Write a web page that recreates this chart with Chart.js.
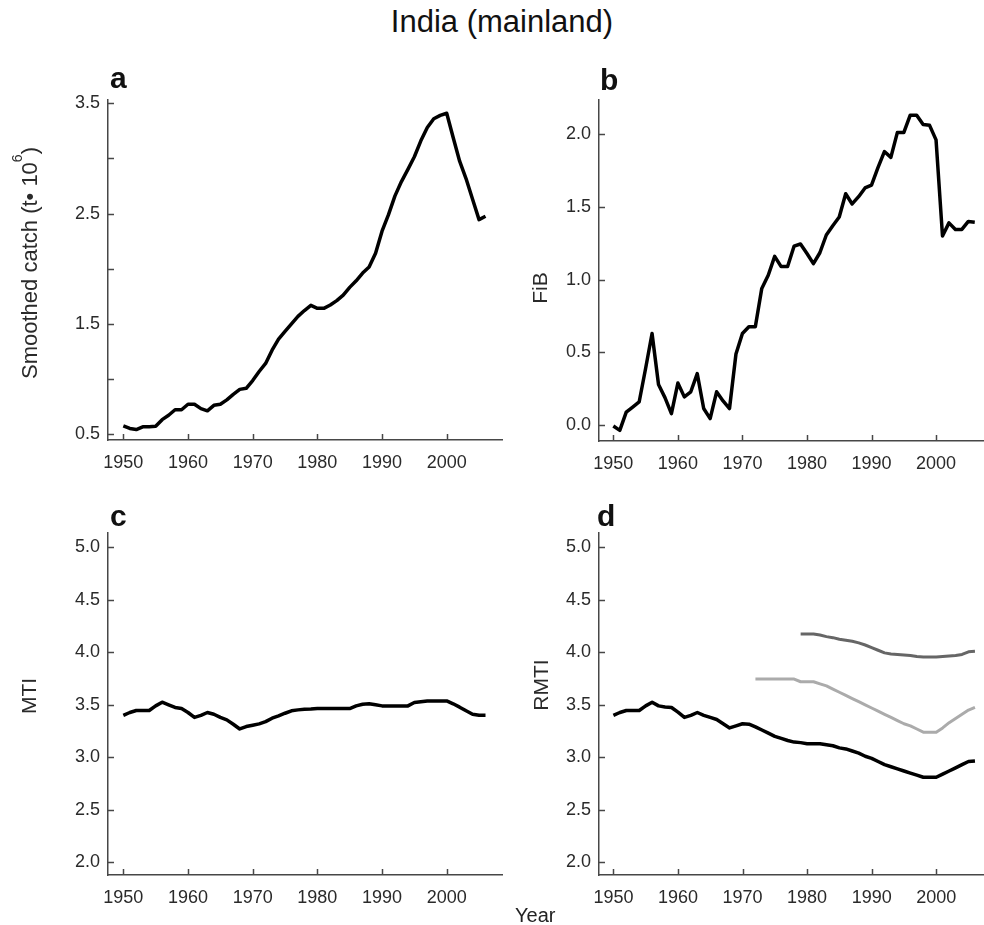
<!DOCTYPE html>
<html>
<head>
<meta charset="utf-8">
<title>India (mainland)</title>
<script src="https://cdn.jsdelivr.net/npm/chart.js@4.4.1/dist/chart.umd.min.js"></script>
<style>
  body { margin: 0; background: #fff; overflow: hidden; }
  #fig { position: relative; width: 984px; height: 925px; font-family: "Liberation Sans", Arial, sans-serif; color: #111; }
  #fig canvas { position: absolute; }
  #title { position: absolute; left: 0; top: 6px; width: 1004px; text-align: center; font-size: 31px; line-height: 31px; }
  #xlabel { position: absolute; left: 515px; top: 905px; font-size: 20px; line-height: 20px; color: #222; }
</style>
</head>
<body>
<div id="fig">
  <div id="title">India (mainland)</div>
  <canvas id="pa" width="506" height="430" style="left:0px;top:60px"></canvas>
  <canvas id="pb" width="484" height="430" style="left:500px;top:60px"></canvas>
  <canvas id="pc" width="506" height="430" style="left:0px;top:490px"></canvas>
  <canvas id="pd" width="484" height="430" style="left:500px;top:490px"></canvas>
  <div id="xlabel">Year</div>
</div>
<script>
// data
const years = [1950, 1951, 1952, 1953, 1954, 1955, 1956, 1957, 1958, 1959,
  1960, 1961, 1962, 1963, 1964, 1965, 1966, 1967, 1968, 1969,
  1970, 1971, 1972, 1973, 1974, 1975, 1976, 1977, 1978, 1979,
  1980, 1981, 1982, 1983, 1984, 1985, 1986, 1987, 1988, 1989,
  1990, 1991, 1992, 1993, 1994, 1995, 1996, 1997, 1998, 1999,
  2000, 2001, 2002, 2003, 2004, 2005, 2006];

const catchSmoothed = [0.573, 0.55, 0.54, 0.565, 0.565, 0.57, 0.63, 0.67, 0.72, 0.72,
  0.77, 0.77, 0.73, 0.71, 0.76, 0.77, 0.81, 0.86, 0.905, 0.915,
  0.985, 1.067, 1.14, 1.26, 1.36, 1.43, 1.50, 1.567, 1.62, 1.667,
  1.64, 1.64, 1.67, 1.71, 1.76, 1.83, 1.89, 1.96, 2.015, 2.14,
  2.34, 2.49, 2.66, 2.79, 2.90, 3.015, 3.16, 3.28, 3.36, 3.39,
  3.41, 3.19, 2.975, 2.815, 2.63, 2.445, 2.475];

const fib = [-0.005, -0.035, 0.09, 0.125, 0.16, 0.39, 0.63, 0.28, 0.19, 0.08,
  0.29, 0.195, 0.23, 0.355, 0.115, 0.046, 0.23, 0.167, 0.115, 0.49,
  0.63, 0.677, 0.677, 0.94, 1.03, 1.16, 1.09, 1.09, 1.23, 1.245,
  1.18, 1.11, 1.185, 1.307, 1.37, 1.43, 1.59, 1.52, 1.57, 1.63,
  1.65, 1.77, 1.88, 1.84, 2.01, 2.01, 2.13, 2.13, 2.065, 2.06,
  1.96, 1.30, 1.39, 1.345, 1.345, 1.40, 1.395];

const mti = [3.40, 3.427, 3.446, 3.446, 3.446, 3.49, 3.525, 3.50, 3.475, 3.465,
  3.427, 3.38, 3.40, 3.427, 3.41, 3.38, 3.357, 3.315, 3.27, 3.293,
  3.306, 3.319, 3.34, 3.373, 3.395, 3.42, 3.443, 3.452, 3.458, 3.46,
  3.465, 3.465, 3.465, 3.465, 3.465, 3.465, 3.49, 3.506, 3.51, 3.50,
  3.49, 3.49, 3.49, 3.49, 3.49, 3.522, 3.53, 3.537, 3.537, 3.537,
  3.537, 3.51, 3.478, 3.443, 3.41, 3.40, 3.40];

const rmtiAll = [3.40, 3.427, 3.446, 3.446, 3.446, 3.49, 3.525, 3.49, 3.48, 3.475,
  3.43, 3.38, 3.40, 3.427, 3.40, 3.38, 3.36, 3.32, 3.28, 3.30,
  3.32, 3.316, 3.29, 3.26, 3.23, 3.20, 3.18, 3.16, 3.145, 3.14,
  3.13, 3.13, 3.13, 3.12, 3.11, 3.09, 3.08, 3.06, 3.04, 3.01,
  2.99, 2.96, 2.93, 2.91, 2.89, 2.87, 2.85, 2.83, 2.81, 2.81,
  2.81, 2.84, 2.87, 2.90, 2.93, 2.96, 2.965];

const rmtiLight = [null, null, null, null, null, null, null, null, null, null,
  null, null, null, null, null, null, null, null, null, null,
  null, null, 3.745, 3.745, 3.745, 3.745, 3.745, 3.745, 3.745, 3.72,
  3.72, 3.72, 3.70, 3.68, 3.65, 3.62, 3.59, 3.56, 3.53, 3.50,
  3.47, 3.44, 3.41, 3.38, 3.35, 3.32, 3.30, 3.27, 3.24, 3.24,
  3.24, 3.28, 3.33, 3.37, 3.41, 3.45, 3.475];

const rmtiDark = [null, null, null, null, null, null, null, null, null, null,
  null, null, null, null, null, null, null, null, null, null,
  null, null, null, null, null, null, null, null, null, 4.175,
  4.175, 4.175, 4.165, 4.15, 4.14, 4.125, 4.115, 4.105, 4.09, 4.07,
  4.045, 4.02, 3.995, 3.985, 3.98, 3.975, 3.97, 3.96, 3.955, 3.955,
  3.955, 3.96, 3.965, 3.97, 3.98, 4.005, 4.01];

const xTicks = [1950, 1960, 1970, 1980, 1990, 2000];
const catchTicks = [0.5, 1.0, 1.5, 2.0, 2.5, 3.0, 3.5];
const catchLabelled = [0.5, 1.5, 2.5, 3.5];
const fibTicks = [0.0, 0.5, 1.0, 1.5, 2.0];
const mtiTicks = [2.0, 2.5, 3.0, 3.5, 4.0, 4.5, 5.0];

const FONT = '"Liberation Sans", Arial, sans-serif';
const AXIS = '#474747';
const LABEL = '#2a2a2a';

// inward tick marks, placed with the chart's own scales
const innerTicks = {
  id: 'innerTicks',
  afterDraw(chart) {
    const { ctx, chartArea: a, scales: { x, y } } = chart;
    ctx.save();
    ctx.strokeStyle = AXIS;
    ctx.lineWidth = 1.5;
    ctx.beginPath();
    x.ticks.forEach(t => {
      const px = Math.round(x.getPixelForValue(t.value)) + 0.5;
      ctx.moveTo(px, a.bottom);
      ctx.lineTo(px, a.bottom - 6);
    });
    y.ticks.forEach(t => {
      const py = Math.round(y.getPixelForValue(t.value)) + 0.5;
      ctx.moveTo(a.left, py);
      ctx.lineTo(a.left + 6, py);
    });
    ctx.stroke();
    ctx.restore();
  }
};

// panel letter and rotated y title (with optional superscript part)
const panelText = {
  id: 'panelText',
  afterDraw(chart, args, o) {
    const ctx = chart.ctx;
    ctx.save();
    ctx.fillStyle = '#111';
    ctx.font = 'bold 30px ' + FONT;
    ctx.textBaseline = 'alphabetic';
    ctx.textAlign = 'left';
    ctx.fillText(o.letter, o.lx, o.ly);

    ctx.fillStyle = LABEL;
    ctx.translate(o.tx, o.ty);
    ctx.rotate(-Math.PI / 2);
    let total = 0;
    o.title.forEach(p => {
      ctx.font = p.size + 'px ' + FONT;
      total += ctx.measureText(p.text).width;
    });
    let pos = -total / 2;
    o.title.forEach(p => {
      ctx.font = p.size + 'px ' + FONT;
      ctx.fillText(p.text, pos, -(p.rise || 0));
      pos += ctx.measureText(p.text).width;
    });
    ctx.restore();
  }
};

function makePanel(id, cfg) {
  const datasets = cfg.series.map(s => ({
    data: years.map((yr, i) => ({ x: yr, y: s.values[i] })),
    borderColor: s.color,
    borderWidth: s.width,
    pointRadius: 0,
    tension: 0,
    fill: false,
    spanGaps: false,
    borderJoinStyle: 'round'
  }));

  return new Chart(document.getElementById(id), {
    type: 'line',
    data: { datasets },
    options: {
      responsive: false,
      animation: false,
      events: [],
      layout: { padding: { top: cfg.padTop, right: cfg.padRight, left: 0, bottom: 0 } },
      plugins: {
        legend: { display: false },
        tooltip: { enabled: false },
        panelText: cfg.text
      },
      scales: {
        x: {
          type: 'linear',
          min: cfg.xMin,
          max: cfg.xMax,
          grid: { display: false, drawTicks: false },
          border: { display: true, color: AXIS, width: 1.5 },
          ticks: {
            color: LABEL,
            font: { family: FONT, size: 18 },
            padding: 12,
            maxRotation: 0,
            autoSkip: false,
            callback: v => String(v)
          },
          afterBuildTicks: s => { s.ticks = xTicks.map(v => ({ value: v })); },
          afterFit: s => { s.height = cfg.xH; }
        },
        y: {
          type: 'linear',
          min: cfg.yMin,
          max: cfg.yMax,
          grid: { display: false, drawTicks: false },
          border: { display: true, color: AXIS, width: 1.5 },
          ticks: {
            color: LABEL,
            font: { family: FONT, size: 18 },
            padding: 8,
            autoSkip: false,
            callback: cfg.yLabel
          },
          afterBuildTicks: s => { s.ticks = cfg.yTicks.map(v => ({ value: v })); },
          afterFit: s => { s.width = cfg.yW; }
        }
      }
    },
    plugins: [innerTicks, panelText]
  });
}

const oneDec = v => v.toFixed(1);

// a: smoothed catch
makePanel('pa', {
  series: [{ values: catchSmoothed, color: '#000', width: 3.5 }],
  xMin: 1947.63, xMax: 2008.55, yMin: 0.4456, yMax: 3.53,
  yTicks: catchTicks,
  yLabel: v => (catchLabelled.includes(v) ? v.toFixed(1) : ''),
  yW: 108, xH: 50, padTop: 40, padRight: 4,
  text: {
    letter: 'a', lx: 110, ly: 28,
    tx: 37, ty: 203,
    title: [
      { text: 'Smoothed catch (t\u2022 10', size: 22 },
      { text: '6', size: 14, rise: 15 },
      { text: ')', size: 22 }
    ]
  }
});

// b: FiB index
makePanel('pb', {
  series: [{ values: fib, color: '#000', width: 3.5 }],
  xMin: 1947.78, xMax: 2007.43, yMin: -0.108, yMax: 2.234,
  yTicks: fibTicks,
  yLabel: oneDec,
  yW: 99, xH: 49, padTop: 40, padRight: 0,
  text: {
    letter: 'b', lx: 100, ly: 30,
    tx: 47, ty: 228,
    title: [{ text: 'FiB', size: 21 }]
  }
});

// c: MTI
makePanel('pc', {
  series: [{ values: mti, color: '#000', width: 3.5 }],
  xMin: 1947.63, xMax: 2008.55, yMin: 1.879, yMax: 5.137,
  yTicks: mtiTicks,
  yLabel: oneDec,
  yW: 108, xH: 45, padTop: 43, padRight: 4,
  text: {
    letter: 'c', lx: 110, ly: 36,
    tx: 36, ty: 206,
    title: [{ text: 'MTI', size: 21 }]
  }
});

// d: RMTI, three cut-off levels
makePanel('pd', {
  series: [
    { values: rmtiDark, color: '#666666', width: 3 },
    { values: rmtiLight, color: '#ababab', width: 3 },
    { values: rmtiAll, color: '#000', width: 3.5 }
  ],
  xMin: 1947.77, xMax: 2007.4, yMin: 1.879, yMax: 5.137,
  yTicks: mtiTicks,
  yLabel: oneDec,
  yW: 99, xH: 45, padTop: 43, padRight: 0,
  text: {
    letter: 'd', lx: 97, ly: 36,
    tx: 48, ty: 195,
    title: [{ text: 'RMTI', size: 21 }]
  }
});
</script>
</body>
</html>
